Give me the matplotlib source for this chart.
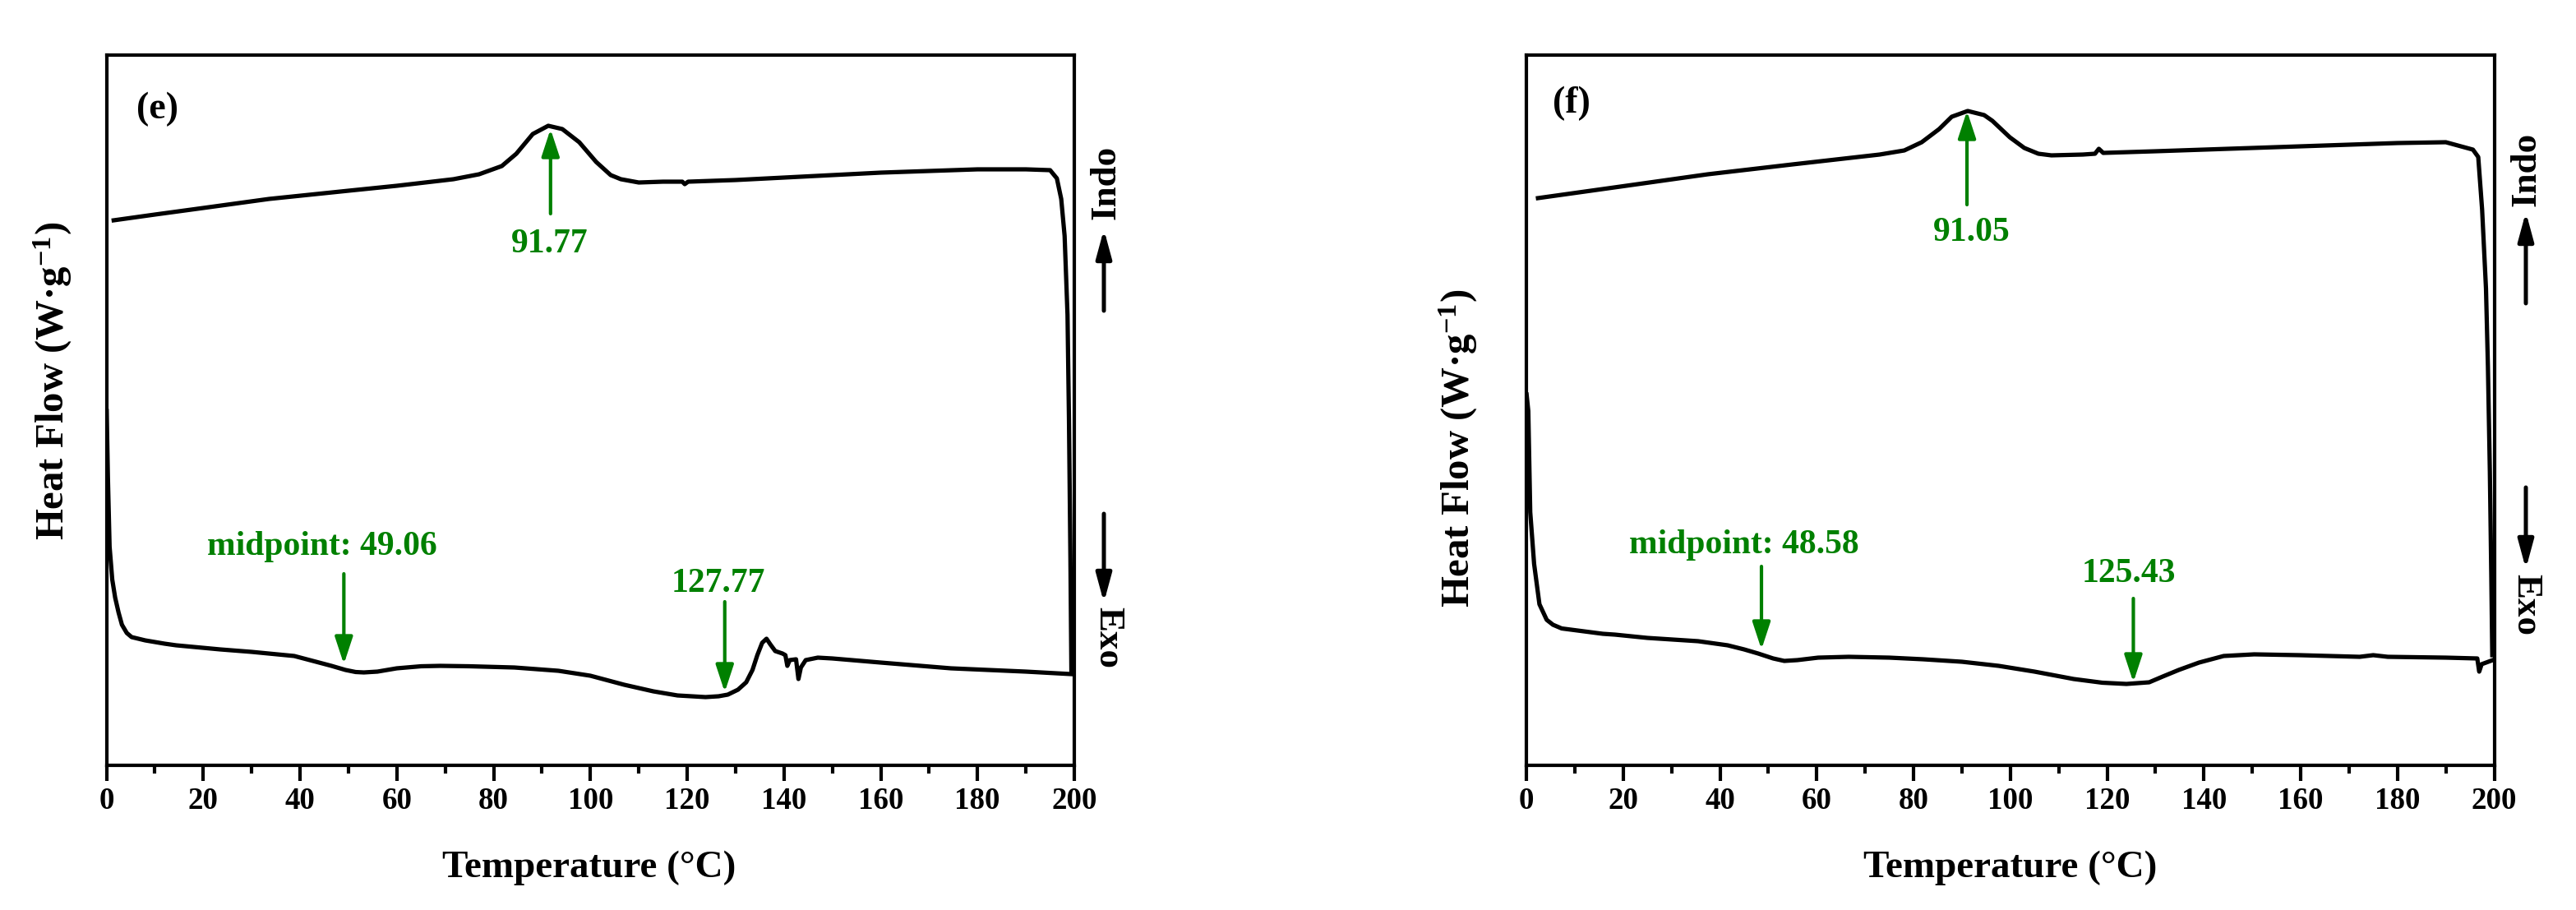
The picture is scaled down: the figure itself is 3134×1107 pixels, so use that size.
import matplotlib
matplotlib.use("Agg")
import matplotlib.pyplot as plt
from matplotlib.ticker import MultipleLocator

plt.rcParams['font.family'] = ['Liberation Serif', 'DejaVu Serif']
plt.rcParams['font.weight'] = 'bold'
plt.rcParams['mathtext.fontset'] = 'custom'
plt.rcParams['mathtext.rm'] = 'Liberation Serif:bold'
plt.rcParams['mathtext.bf'] = 'Liberation Serif:bold'
plt.rcParams['mathtext.it'] = 'Liberation Serif:bold'

# ---------------- data (panel e) ----------------
e_top_T = [1.5, 10, 20, 33.6, 50, 60, 71.7, 77, 81.7, 84.7, 88.1, 91.3, 94.2, 97.7,
           101.2, 104.2, 106.3, 110, 115, 119.0, 119.5, 120.2, 130, 140, 160, 180, 190,
           195.0, 196.4, 197.3, 198.0, 198.6, 198.9, 199.2, 199.4]
e_top_HF = [6.63, 6.70, 6.78, 6.89, 6.99, 7.05, 7.13, 7.19, 7.29, 7.44, 7.68, 7.78, 7.74, 7.58,
            7.34, 7.18, 7.13, 7.09, 7.10, 7.10, 7.07, 7.10, 7.12, 7.15, 7.21, 7.25, 7.25,
            7.24, 7.14, 6.89, 6.44, 5.48, 4.21, 2.51, 1.15]

e_bot_T = [0.05, 0.3, 0.65, 1.2, 1.8, 2.5, 3.2, 4.2, 5.2, 8, 12, 14.4, 23.5, 30, 38.8, 43.3,
           46.5, 49.4, 51.5, 53.2, 56, 60, 65, 69, 75, 84.3, 93.4, 100, 107, 113, 118, 123.8,
           126.5, 128.4, 130.5, 132.2, 133.5, 134.5, 135.5, 136.4, 137.2, 138.2, 139.7, 140.3,
           140.7, 141.2, 142.5, 143.0, 143.5, 144.5, 147, 150, 160, 174.5, 190, 199.3]
e_bot_HF = [4.31, 3.51, 2.66, 2.26, 2.04, 1.86, 1.71, 1.61, 1.56, 1.52, 1.48, 1.46, 1.41, 1.38,
            1.33, 1.26, 1.21, 1.16, 1.135, 1.13, 1.14, 1.18, 1.205, 1.21, 1.205, 1.19, 1.15,
            1.09, 0.98, 0.90, 0.85, 0.83, 0.84, 0.86, 0.92, 1.01, 1.16, 1.34, 1.49, 1.54, 1.47,
            1.39, 1.36, 1.34, 1.21, 1.28, 1.29, 1.05, 1.19, 1.28, 1.31, 1.30, 1.25, 1.18, 1.14, 1.11]

# ---------------- data (panel f) ----------------
f_top_T = [2.4, 20, 37.5, 55, 73, 78.1, 81.7, 85.3, 87.9, 91.2, 94.6, 96.3, 99.9, 102.9,
           105.8, 108.5, 115, 117.5, 118.3, 119.2, 130, 150, 165, 180, 190,
           195.6, 196.7, 197.5, 198.3, 198.7, 199.1, 199.4, 199.6]
f_top_HF = [6.90, 7.045, 7.19, 7.31, 7.43, 7.48, 7.58, 7.74, 7.89, 7.96, 7.91, 7.84, 7.64, 7.51,
            7.44, 7.42, 7.43, 7.44, 7.50, 7.45, 7.47, 7.51, 7.54, 7.57, 7.58,
            7.49, 7.40, 6.76, 5.80, 4.85, 3.57, 2.29, 1.34]

f_bot_T = [0.05, 0.4, 0.8, 1.6, 2.7, 4.2, 5.5, 7.3, 15.8, 18.3, 25, 35.5, 41.6, 45, 47.9, 51,
           53.3, 56, 60.3, 66.6, 75, 82, 90, 97.6, 105, 113.1, 119, 124, 128.7, 131.5, 134.8,
           139, 144.1, 150.4, 159.8, 166, 172.2, 175, 178, 190, 196.5, 196.9, 197.4, 199.7]
f_bot_HF = [4.51, 4.31, 3.08, 2.45, 1.96, 1.77, 1.71, 1.665, 1.60, 1.59, 1.55, 1.51, 1.46, 1.41,
            1.36, 1.30, 1.27, 1.28, 1.31, 1.32, 1.31, 1.29, 1.26, 1.21, 1.14, 1.05, 1.005, 0.99,
            1.01, 1.08, 1.16, 1.25, 1.33, 1.35, 1.34, 1.33, 1.32, 1.34, 1.32, 1.31, 1.30, 1.14,
            1.23, 1.28]

panel_labels = ['(e)', '(f)']
peak_values = [91.77, 91.05]
glass_values = [49.06, 48.58]
cryst_values = [127.77, 125.43]
x_ticks = [0, 20, 40, 60, 80, 100, 120, 140, 160, 180, 200]

W, H = 3134, 1107
fig = plt.figure(figsize=(W / 300, H / 300), dpi=300)

GREEN = '#008000'


def fx(px):
    return px / W


def fy(py):
    return 1 - py / H


def arrow(ax, x, y0, y1, color, lw=1.0, hl=6.7, hw=2.2, coords='data'):
    ax.annotate('', xy=(x, y1), xytext=(x, y0), xycoords=coords, textcoords=coords,
                arrowprops=dict(arrowstyle=f'-|>,head_length={hl},head_width={hw}',
                                mutation_scale=1, color=color, lw=lw,
                                shrinkA=0, shrinkB=0), annotation_clip=False)


panels = [
    dict(left=129.5, top_T=e_top_T, top_HF=e_top_HF, bot_T=e_bot_T, bot_HF=e_bot_HF,
         label=panel_labels[0], lab_xy=(0.053, 0.924),
         peak=peak_values[0], peak_txt=(91.5, 6.34), peak_arr=(6.71, 7.74),
         glass=glass_values[0], glass_txt=(44.5, 2.66), glass_arr=(2.33, 1.23),
         cryst=cryst_values[0], cryst_txt=(126.4, 2.21), cryst_arr=(1.99, 0.89),
         ylab=(64, 463), indo=(1345, 222), indo_arr=(1343, 378, 279),
         exo=(1348, 776), exo_arr=(1343, 625, 733), xlab=717),
    dict(left=1857, top_T=f_top_T, top_HF=f_top_HF, bot_T=f_bot_T, bot_HF=f_bot_HF,
         label=panel_labels[1], lab_xy=(0.047, 0.932),
         peak=peak_values[1], peak_txt=(92.0, 6.48), peak_arr=(6.82, 7.96),
         glass=glass_values[1], glass_txt=(45.0, 2.68), glass_arr=(2.42, 1.41),
         cryst=cryst_values[1], cryst_txt=(124.5, 2.33), cryst_arr=(2.03, 1.01),
         ylab=(1774, 545), indo=(3074, 206), indo_arr=(3073, 369, 258),
         exo=(3073, 735), exo_arr=(3073, 593, 692), xlab=2446),
]

ax_w = 1177.5
ax_top, ax_bot = 67, 931

for p in panels:
    ax = fig.add_axes([fx(p['left']), fy(ax_bot), ax_w / W, (ax_bot - ax_top) / H])
    ax.plot(p['top_T'], p['top_HF'], color='black', lw=1.25, solid_joinstyle='round')
    ax.plot(p['bot_T'], p['bot_HF'], color='black', lw=1.25, solid_joinstyle='round')
    ax.set_xlim(0, 200)
    ax.set_ylim(0, 8.64)
    ax.set_xticks(x_ticks)
    ax.xaxis.set_minor_locator(MultipleLocator(10))
    ax.set_yticks([])
    ax.tick_params(axis='x', which='major', direction='out', length=4.6, width=1.0,
                   labelsize=8.9, pad=1.6, top=False)
    ax.tick_params(axis='x', which='minor', direction='out', length=2.4, width=1.0, top=False)
    for lbl in ax.get_xticklabels():
        lbl.set_fontweight('bold')
    for s in ax.spines.values():
        s.set_linewidth(1.0)

    ax.text(p['lab_xy'][0], p['lab_xy'][1], p['label'], transform=ax.transAxes,
            fontsize=11, fontweight='bold', ha='center', va='center')

    # annotations
    ax.text(p['peak_txt'][0], p['peak_txt'][1], f"{p['peak']:.2f}", color=GREEN,
            fontsize=10, fontweight='bold', ha='center', va='center')
    arrow(ax, p['peak'], p['peak_arr'][0], p['peak_arr'][1], GREEN)
    ax.text(p['glass_txt'][0], p['glass_txt'][1], f"midpoint: {p['glass']:.2f}", color=GREEN,
            fontsize=10, fontweight='bold', ha='center', va='center')
    arrow(ax, p['glass'], p['glass_arr'][0], p['glass_arr'][1], GREEN)
    ax.text(p['cryst_txt'][0], p['cryst_txt'][1], f"{p['cryst']:.2f}", color=GREEN,
            fontsize=10, fontweight='bold', ha='center', va='center')
    arrow(ax, p['cryst'], p['cryst_arr'][0], p['cryst_arr'][1], GREEN)

    # axis labels
    fig.text(fx(p['xlab']), fy(1067), 'Temperature (°C)', fontsize=11.3, fontweight='bold',
             ha='center', va='baseline')
    fig.text(fx(p['ylab'][0]), fy(p['ylab'][1]), r'Heat Flow (W·g$^{-1}$)', fontsize=11.7,
             fontweight='bold', ha='center', va='center', rotation=90)

    # Indo / Exo
    fig.text(fx(p['indo'][0]), fy(p['indo'][1]), 'Indo', fontsize=10.8, fontweight='bold',
             ha='center', va='center', rotation=90)
    fig.text(fx(p['exo'][0]), fy(p['exo'][1]), 'Exo', fontsize=10.8, fontweight='bold',
             ha='center', va='center', rotation=-90)
    ia = p['indo_arr']
    arrow(ax, fx(ia[0]), fy(ia[1]), fy(ia[2]), 'black', lw=1.2, hl=7.0, hw=1.9,
          coords='figure fraction')
    ea = p['exo_arr']
    arrow(ax, fx(ea[0]), fy(ea[1]), fy(ea[2]), 'black', lw=1.2, hl=7.0, hw=1.9,
          coords='figure fraction')

fig.savefig('out.png', dpi=300, facecolor='white')
